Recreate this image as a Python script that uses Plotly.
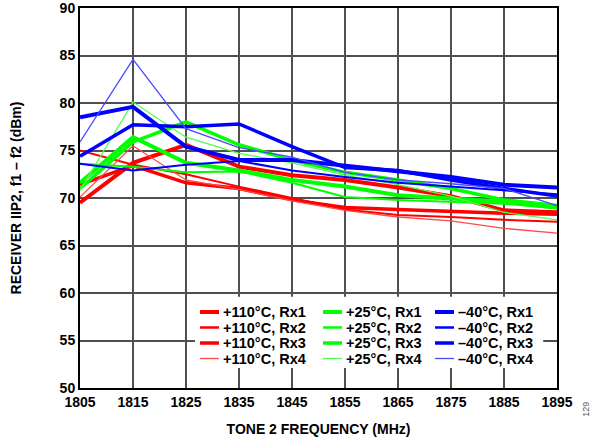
import plotly.graph_objects as go

# tone 2 frequency, MHz
freq = [1805, 1815, 1825, 1835, 1845, 1855, 1865, 1875, 1885, 1895]

# IIP2 (dBm)
hot_rx1 = [69.5, 73.7, 75.6, 73.3, 72.4, 71.9, 71.1, 70.2, 68.7, 68.5]
hot_rx2 = [75.0, 73.5, 72.5, 71.2, 70.0, 68.8, 68.2, 68.0, 67.7, 67.5]
hot_rx3 = [71.4, 73.4, 71.6, 71.0, 69.8, 69.0, 68.8, 68.6, 68.4, 68.3]
hot_rx4 = [70.1, 75.5, 71.9, 70.9, 69.7, 68.7, 68.0, 67.6, 66.8, 66.3]

room_rx1 = [71.6, 76.4, 73.7, 72.9, 71.9, 71.2, 70.3, 69.9, 69.6, 69.0]
room_rx2 = [73.6, 73.3, 72.7, 72.8, 71.6, 70.1, 69.8, 69.6, 69.4, 68.9]
room_rx3 = [71.0, 75.9, 78.0, 75.6, 74.0, 72.7, 71.9, 71.0, 69.8, 69.2]
room_rx4 = [70.8, 80.1, 76.4, 74.7, 73.7, 72.4, 71.4, 70.2, 68.5, 67.7]

cold_rx1 = [78.5, 79.6, 75.4, 74.0, 74.0, 73.4, 72.7, 72.2, 71.4, 71.1]
cold_rx2 = [73.6, 72.9, 73.5, 73.9, 72.9, 72.2, 71.6, 71.2, 70.8, 70.4]
cold_rx3 = [74.4, 77.7, 77.5, 77.8, 75.4, 73.2, 72.9, 71.9, 71.0, 70.2]
cold_rx4 = [75.9, 84.6, 77.3, 75.3, 74.3, 72.7, 71.9, 71.5, 71.0, 69.2]

x_ticks = freq
y_ticks = [50, 55, 60, 65, 70, 75, 80, 85, 90]

font = "Liberation Sans, Arial, sans-serif"

groups = [
    ("+110°C", [hot_rx1, hot_rx2, hot_rx3, hot_rx4], ["#ff0000", "#ff0000", "#ff0000", "#ff4a4a"]),
    ("+25°C", [room_rx1, room_rx2, room_rx3, room_rx4], ["#00ff00", "#00ff00", "#00ff00", "#4dff4d"]),
    ("–40°C", [cold_rx1, cold_rx2, cold_rx3, cold_rx4], ["#0000ff", "#0000ff", "#0000ff", "#4a4aff"]),
]
widths = [4, 2, 3.5, 1.3]

# plot box in pixels: left 80, width 477, bottom 388, height 380
def px_x(p):
    return (p - 80) / 477

def px_y(p):
    return (388 - p) / 380

fig = go.Figure()
for label, series, colors in groups:
    for i, ys in enumerate(series):
        fig.add_trace(go.Scatter(
            x=freq, y=ys, mode="lines",
            name=f"{label}, Rx{i + 1}",
            line=dict(color=colors[i], width=widths[i]),
            showlegend=False,
        ))

# white patch behind the legend hides the grid there
fig.add_shape(type="rect", xref="x", yref="y", x0=1826.7, x1=1892.4, y0=52.1, y1=59.6,
              fillcolor="white", line=dict(width=0), layer="above")

# hand-built legend: 3 columns x 4 rows, tight spacing like the original
col_x = [200, 323, 435]
row_y = [312, 327.5, 343, 358.5]
for c, (label, series, colors) in enumerate(groups):
    for r in range(4):
        fig.add_shape(type="line", xref="paper", yref="paper",
                      x0=px_x(col_x[c]), x1=px_x(col_x[c] + 19),
                      y0=px_y(row_y[r]), y1=px_y(row_y[r]),
                      line=dict(color=colors[r], width=widths[r] if r != 1 else 2.5))
        fig.add_annotation(text=f"<b>{label}, Rx{r + 1}</b>", xref="paper", yref="paper",
                           x=px_x(col_x[c] + 21), y=px_y(row_y[r]), xanchor="left", yanchor="middle",
                           showarrow=False, font=dict(family=font, size=14.5, color="black"))

axis_common = dict(
    showgrid=True, gridcolor="#505050", gridwidth=2,
    showline=True, linecolor="black", linewidth=2, mirror=True, zeroline=False,
    tickfont=dict(family=font, size=14, weight="bold"), ticks="", automargin=False,
    ticklabeloverflow="allow",
)
fig.update_layout(
    width=600, height=444,
    margin=dict(l=80, r=43, t=8, b=56),
    paper_bgcolor="white", plot_bgcolor="white",
    font=dict(family=font, size=14, color="black"),
    showlegend=False,
    xaxis=dict(
        range=[1805, 1895], tickvals=x_ticks,
        title=dict(text="<b>TONE 2 FREQUENCY (MHz)</b>", font=dict(family=font, size=14), standoff=15),
        **axis_common,
    ),
    yaxis=dict(
        range=[50, 90], tickvals=y_ticks,
        title=dict(text="<b>RECEIVER IIP2, f1 – f2 (dBm)</b>", font=dict(family=font, size=14), standoff=35),
        **axis_common,
    ),
)

fig.add_annotation(text="129", xref="paper", yref="paper", x=1.075, y=-0.08,
                   showarrow=False, textangle=-90, font=dict(family=font, size=9, color="#555"))

# drop the browser's default 8px body margin so the figure sits at the window corner
fig.write_html("out.html", config={"displayModeBar": False},
               post_script="document.body.style.margin='0';")
